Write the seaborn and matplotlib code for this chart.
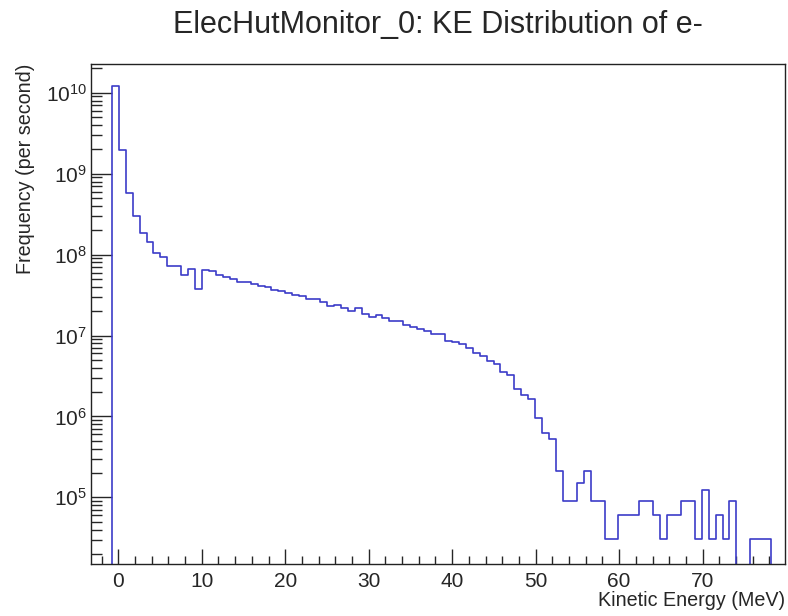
import numpy as np
import pandas as pd
import matplotlib
matplotlib.use('Agg')
import matplotlib.pyplot as plt
import seaborn as sns
from matplotlib.ticker import LogLocator, MultipleLocator, NullFormatter

# histogram range and number of bins (as in the monitor output)
x_lo, x_hi, n_bins = -3.26, 79.86, 100

# rate per bin (per second), bins 0..99, empty bins are 0
rate = [
    0, 0, 0,
    1.21e10, 1.95e9, 5.78e8, 2.97e8, 1.85e8, 1.42e8, 1.06e8, 9.34e7, 7.29e7, 7.29e7,
    5.64e7, 6.64e7, 3.75e7, 6.37e7, 6.20e7, 5.64e7, 5.28e7, 4.99e7, 4.62e7, 4.55e7,
    4.28e7, 4.04e7, 4.01e7, 3.61e7, 3.51e7, 3.35e7, 3.19e7, 3.10e7, 2.82e7, 2.82e7,
    2.56e7, 2.33e7, 2.38e7, 2.16e7, 2.02e7, 2.16e7, 1.86e7, 1.69e7, 1.80e7, 1.64e7,
    1.49e7, 1.49e7, 1.36e7, 1.26e7, 1.22e7, 1.14e7, 1.03e7, 1.03e7, 8.59e6, 8.43e6,
    7.83e6, 6.98e6, 6.03e6, 5.56e6, 4.82e6, 4.49e6, 3.53e6, 3.21e6, 2.21e6, 1.83e6,
    1.62e6, 9.50e5, 6.31e5, 5.27e5, 2.13e5, 9.1e4, 9.1e4, 1.52e5, 2.13e5, 9.1e4,
    9.1e4, 3.04e4, 3.04e4, 6.1e4, 6.1e4, 6.1e4, 9.1e4, 9.1e4, 6.1e4, 3.04e4,
    6.1e4, 6.1e4, 9.1e4, 9.1e4, 3.04e4, 1.22e5, 3.04e4, 6.1e4, 3.04e4, 9.1e4,
    0, 0, 3.04e4, 3.04e4, 3.04e4,
    0, 0,
]

title = "ElecHutMonitor_0: KE Distribution of e-"
x_title = "Kinetic Energy (MeV)"
y_title = "Frequency (per second)"

sns.set_style('ticks')
plt.rcParams['font.family'] = ['Liberation Sans', 'DejaVu Sans']
plt.rcParams['mathtext.fontset'] = 'custom'
plt.rcParams['mathtext.rm'] = 'Liberation Sans'

edges = np.linspace(x_lo, x_hi, n_bins + 1)
df = pd.DataFrame({'energy': (edges[:-1] + edges[1:]) / 2, 'rate': rate})

fig = plt.figure(figsize=(7.88, 6.16), dpi=100)
ax = fig.add_axes([91 / 788, 1 - 564 / 616, (785 - 91) / 788, (564 - 63.5) / 616])
ax.set_yscale('log')

sns.histplot(data=df, x='energy', weights='rate', bins=list(edges), element='step',
             fill=False, color='#3c3cc8', linewidth=1.2, ax=ax)

ax.set_xlim(x_lo, x_hi)
ax.set_ylim(1.5e4, 2.3e10)

# root-like frame and ticks
for s in ax.spines.values():
    s.set_linewidth(1.0)
    s.set_color('#222222')
ax.xaxis.set_major_locator(MultipleLocator(10))
ax.xaxis.set_minor_locator(MultipleLocator(2))
ax.yaxis.set_major_locator(LogLocator(base=10, numticks=20))
ax.yaxis.set_minor_locator(LogLocator(base=10, subs=np.arange(2, 10), numticks=20))
ax.yaxis.set_minor_formatter(NullFormatter())
ax.tick_params(axis='x', which='major', direction='in', length=11, width=1, labelsize=15, pad=6)
ax.tick_params(axis='x', which='minor', direction='in', length=5.5, width=1)
ax.tick_params(axis='y', which='major', direction='in', length=15, width=1, labelsize=15, pad=3)
ax.tick_params(axis='y', which='minor', direction='in', length=8, width=1)
ax.tick_params(top=False, right=False, which='both')

ax.set_xlabel(x_title, fontsize=14.2, loc='right', labelpad=0)
ax.set_ylabel(y_title, fontsize=14.2, loc='top', labelpad=8)
fig.text(438 / 788, 1 - 33 / 616, title, ha='center', va='baseline', fontsize=22)

fig.savefig('out.png', dpi=100)
